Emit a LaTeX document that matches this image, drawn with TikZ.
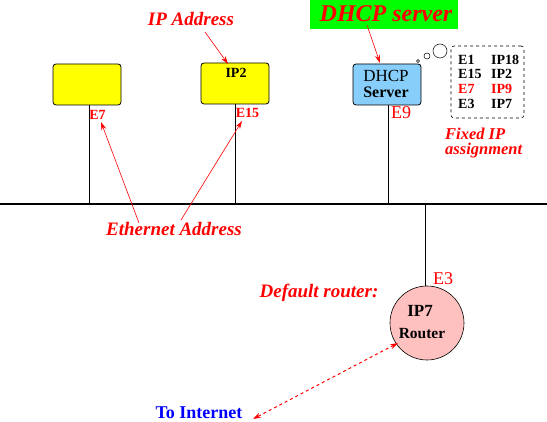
\documentclass[tikz,border=0pt]{standalone}
\usepackage{fontspec}
\setmainfont{Liberation Serif}
\usetikzlibrary{arrows.meta}
\definecolor{ybox}{RGB}{255,255,0}
\definecolor{bbox}{RGB}{135,206,250}
\definecolor{pinkc}{RGB}{255,192,192}
\definecolor{gbox}{RGB}{0,255,0}
\begin{document}
\begin{tikzpicture}[x=1pt,y=-1pt,
  host/.style={draw,line width=0.8pt,rounded corners=3pt,minimum width=68pt,minimum height=41pt,inner sep=0pt},
  lab/.style={text=red,font=\bfseries\itshape\fontsize{19}{20}\selectfont,inner sep=0pt},
  elab/.style={text=red,font=\bfseries\fontsize{14}{15}\selectfont,inner sep=0pt},
  tab/.style={font=\bfseries\fontsize{14}{15}\selectfont,inner sep=0pt,anchor=west},
  rarr/.style={red,line width=0.6pt,-{Stealth[length=8pt,width=5pt]}},
  wire/.style={line width=0.6pt}]
\useasboundingbox (0,0) rectangle (547,422);
% hosts
\node[host,fill=ybox] (h1) at (87,84.5) {};
\node[host,fill=ybox] (h2) at (235,83.5) {};
\node[font=\bfseries\fontsize{14}{15}\selectfont,inner sep=0pt] (ip2) at (236,73) {IP2};
\node[host,fill=bbox] (srv) at (387,84.5) {};
\node[font=\fontsize{17}{18}\selectfont,inner sep=0pt] (srv1) at (386,76) {DHCP};
\node[font=\bfseries\fontsize{16}{17}\selectfont,inner sep=0pt] (srv2) at (386,92) {Server};
% bus
\coordinate (busL) at (0,204);
\coordinate (busR) at (547,204);
\draw[line width=1.6pt] (busL) -- (busR);
\coordinate (b1) at (89,204);
\coordinate (b2) at (235,204);
\coordinate (b3) at (388,204);
\coordinate (b4) at (425,204);
\draw[wire] (h1.south -| b1) -- (b1);
\draw[wire] (h2.south -| b2) -- (b2);
\draw[wire] (srv.south -| b3) -- (b3);
% router
\node[circle,draw,line width=0.6pt,fill=pinkc,minimum size=74pt,inner sep=0pt] (rt) at (427,323) {};
\node[font=\bfseries\fontsize{17}{18}\selectfont,inner sep=0pt] (ip7) at (420,311) {IP7};
\node[font=\bfseries\fontsize{15.5}{16}\selectfont,inner sep=0pt] (rtl) at (422,334) {Router};
\draw[wire] (b4) -- (rt.north -| b4);
% ethernet labels
\node[elab] (e7) at (97.5,115) {E7};
\node[elab] (e15) at (247.5,113) {E15};
\node[text=red,font=\fontsize{18}{19}\selectfont,inner sep=0pt] (e9) at (401,113) {E9};
\node[text=red,font=\fontsize{18}{19}\selectfont,inner sep=0pt] (e3) at (443,279) {E3};
% labels
\node[lab] (ipa) at (191,19) {IP Address};
\node[fill=gbox,minimum width=148pt,minimum height=29pt,inner sep=0pt] (dh) at (384,14.5) {};
\node[text=red,font=\bfseries\itshape\fontsize{24}{25}\selectfont,inner sep=0pt] (dht) at (386,14) {DHCP server};
\node[lab] (eth) at (174,229) {Ethernet Address};
\node[lab] (dr) at (319,293) {Default router:};
\node[lab,font=\bfseries\itshape\fontsize{16.5}{17}\selectfont,anchor=base west,text height=10pt,text depth=2pt] (fix1) at (445,140) {Fixed IP};
\node[lab,font=\bfseries\itshape\fontsize{16.5}{17}\selectfont,anchor=base west,text height=10pt,text depth=2pt] (fix2) at (445,155) {assignment};
\node[text=blue,font=\bfseries\fontsize{18}{19}\selectfont,inner sep=0pt,anchor=base] (ti) at (199,419) {To Internet};
% arrows
\coordinate (ipaS) at (205,32);
\coordinate (ipaE) at (228,64);
\draw[rarr] (ipaS) -- (ipaE);
\coordinate (dhS) at (367,25);
\coordinate (dhE) at (380,63);
\draw[rarr] (dhS) -- (dhE);
\coordinate (eth1) at (139,223);
\coordinate (eth1E) at (101,122);
\draw[rarr] (eth1) -- (eth1E);
\coordinate (eth2) at (181,220);
\coordinate (eth2E) at (242,121);
\draw[rarr] (eth2) -- (eth2E);
\coordinate (inA) at (398,343);
\coordinate (inB) at (253,419);
\draw[red,line width=1pt,dash pattern=on 3pt off 3pt,{Stealth[length=8pt,width=5pt]}-{Stealth[length=8pt,width=5pt]}] (inA) -- (inB);
% thought bubbles
\node[circle,draw,line width=0.5pt,minimum size=3pt,inner sep=0pt] (c1) at (418,61) {};
\node[circle,draw,line width=0.5pt,minimum size=6pt,inner sep=0pt] (c2) at (427,56) {};
\node[circle,draw,line width=0.5pt,minimum size=14pt,inner sep=0pt] (c3) at (440,51) {};
% table
\node[draw,dashed,line width=0.6pt,rounded corners=3pt,minimum width=73pt,minimum height=72pt,inner sep=0pt] (tb) at (487.5,82) {};
\node[tab] (t1a) at (458,60) {E1};
\node[tab] (t1b) at (491,60) {IP18};
\node[tab] (t2a) at (458,74) {E15};
\node[tab] (t2b) at (491,74) {IP2};
\node[tab,text=red] (t3a) at (458,89) {E7};
\node[tab,text=red] (t3b) at (491,89) {IP9};
\node[tab] (t4a) at (458,104) {E3};
\node[tab] (t4b) at (491,104) {IP7};
\end{tikzpicture}
\end{document}
